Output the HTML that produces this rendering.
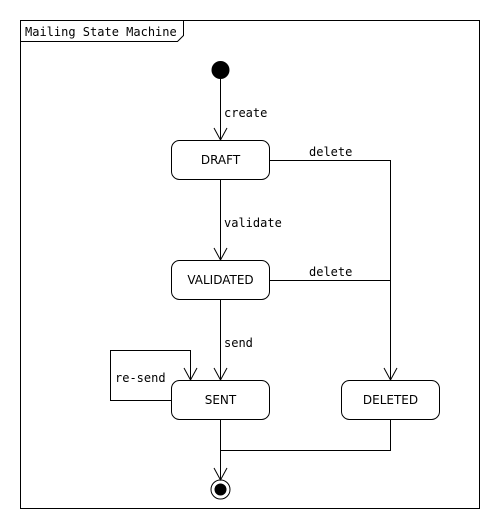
<!DOCTYPE html>
<html><head><style>body{margin:0;background:#fff}svg{display:block}text{font-family:"DejaVu Sans Mono","Liberation Mono",monospace;font-size:12px;fill:#000}.s{font-family:"DejaVu Sans","Liberation Sans",sans-serif;font-size:12px}</style></head><body>
<svg width="500" height="530" xmlns="http://www.w3.org/2000/svg">
<g fill="none" stroke="#000" stroke-width="1">
<rect x="20.5" y="20.5" width="459" height="488"/>
<path d="M20.5 41.5H177.5L183.5 35.5V20.5"/>
<path d="M220.5 79V140M214 128L220.5 140L227 128"/>
<path d="M220.5 179V260M214 248L220.5 260L227 248"/>
<path d="M220.5 299V380M214 368L220.5 380L227 368"/>
<path d="M269 160.5H390.5V380M384 368L390.5 380L397 368"/>
<path d="M269 280.5H390.5"/>
<path d="M171 400.5H110.5V350.5H190.5V380M184 368L190.5 380L197 368"/>
<path d="M220.5 419V480M214 468L220.5 480L227 468"/>
<path d="M390.5 419V450.5H220.5"/>
<rect x="171.5" y="140.5" width="98" height="39" rx="8"/>
<rect x="171.5" y="260.5" width="98" height="39" rx="8"/>
<rect x="171.5" y="380.5" width="98" height="39" rx="8"/>
<rect x="341.5" y="380.5" width="98" height="39" rx="8"/>
<circle cx="220.5" cy="489.5" r="9.5"/>
</g>
<circle cx="220.5" cy="70" r="9" fill="#000"/>
<circle cx="220.5" cy="489.5" r="6" fill="#000"/>
<text x="25" y="36">Mailing State Machine</text>
<text x="224" y="117">create</text>
<text x="224" y="227">validate</text>
<text x="224" y="347">send</text>
<text x="309" y="156">delete</text>
<text x="309" y="276">delete</text>
<text x="115" y="382">re-send</text>
<text class="s" x="220.5" y="164" text-anchor="middle">DRAFT</text>
<text class="s" x="220.5" y="284" text-anchor="middle">VALIDATED</text>
<text class="s" x="220.5" y="404" text-anchor="middle">SENT</text>
<text class="s" x="390.5" y="404" text-anchor="middle">DELETED</text>
</svg>
</body></html>
